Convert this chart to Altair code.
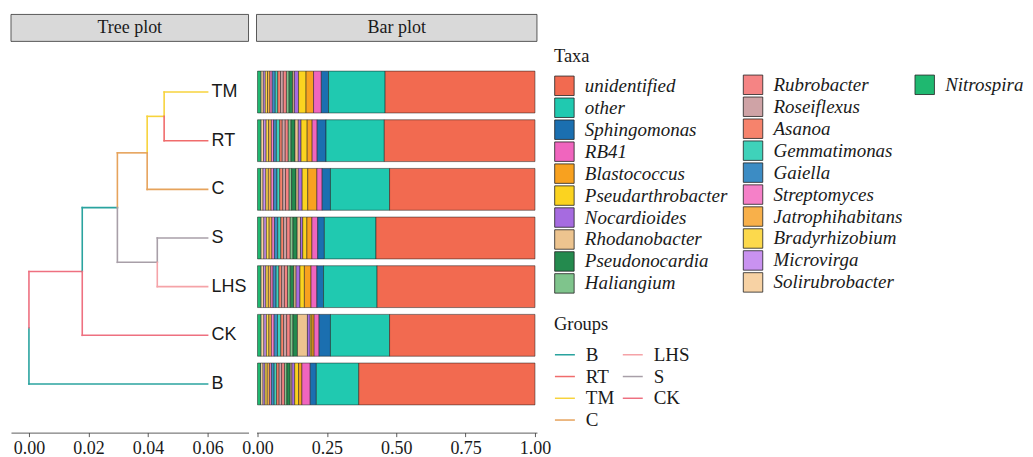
import altair as alt
import pandas as pd

# ---------------- data ----------------
samples = ["TM", "RT", "C", "S", "LHS", "CK", "B"]

taxa = ["unidentified", "other", "Sphingomonas", "RB41", "Blastococcus",
        "Pseudarthrobacter", "Nocardioides", "Rhodanobacter", "Pseudonocardia",
        "Haliangium", "Rubrobacter", "Roseiflexus", "Asanoa", "Gemmatimonas",
        "Gaiella", "Streptomyces", "Jatrophihabitans", "Bradyrhizobium",
        "Microvirga", "Solirubrobacter", "Nitrospira"]

taxa_colors = ["#F26A50", "#20C9B0", "#1B6FB0", "#F065BE", "#F8A11F",
               "#FBD320", "#A66BE0", "#EDC48F", "#248A4E", "#7FC48C",
               "#F58484", "#CFA3A6", "#F6836C", "#3FD2BA", "#3C8CC4",
               "#F580C8", "#F8B04A", "#FCD94C", "#C992F0", "#F7D2A4",
               "#1FB870"]

# relative abundance per sample, in the order of `taxa`
ab_TM = [0.540, 0.204, 0.026, 0.028, 0.027, 0.027, 0.015, 0.006, 0.013, 0.010, 0.011,
         0.010, 0.010, 0.009, 0.011, 0.008, 0.009, 0.008, 0.007, 0.009, 0.012]
ab_RT = [0.543, 0.210, 0.032, 0.018, 0.018, 0.022, 0.010, 0.012, 0.014, 0.011, 0.010,
         0.011, 0.009, 0.012, 0.010, 0.008, 0.010, 0.009, 0.009, 0.010, 0.012]
ab_C = [0.524, 0.213, 0.030, 0.019, 0.033, 0.020, 0.014, 0.008, 0.016, 0.010, 0.012,
        0.010, 0.011, 0.010, 0.012, 0.009, 0.010, 0.009, 0.010, 0.009, 0.011]
ab_S = [0.573, 0.186, 0.024, 0.021, 0.018, 0.015, 0.008, 0.012, 0.015, 0.011, 0.012,
        0.011, 0.010, 0.011, 0.012, 0.009, 0.010, 0.010, 0.009, 0.011, 0.012]
ab_LHS = [0.569, 0.193, 0.024, 0.021, 0.024, 0.016, 0.014, 0.008, 0.013, 0.010, 0.011,
          0.010, 0.010, 0.010, 0.011, 0.008, 0.009, 0.009, 0.008, 0.010, 0.012]
ab_CK = [0.524, 0.213, 0.041, 0.018, 0.008, 0.006, 0.010, 0.036, 0.016, 0.011, 0.012,
         0.011, 0.010, 0.012, 0.012, 0.010, 0.009, 0.009, 0.009, 0.011, 0.012]
ab_B = [0.635, 0.153, 0.022, 0.030, 0.012, 0.014, 0.010, 0.006, 0.012, 0.009, 0.010,
        0.009, 0.009, 0.009, 0.010, 0.007, 0.008, 0.008, 0.007, 0.009, 0.011]

abundance = {"TM": ab_TM, "RT": ab_RT, "C": ab_C, "S": ab_S,
             "LHS": ab_LHS, "CK": ab_CK, "B": ab_B}

# tree (UPGMA-like dendrogram)
node_names = ["root", "n1", "n2", "n3", "n4", "n5",
              "TM", "RT", "C", "S", "LHS", "CK", "B"]
node_x = [0.0, 0.0179, 0.0297, 0.0397, 0.0454, 0.0431,
          0.06, 0.06, 0.06, 0.06, 0.06, 0.06, 0.06]
node_y = [2.156, 3.3125, 4.625, 5.75, 6.5, 3.5,
          7, 6, 5, 4, 3, 2, 1]
edge_parent = ["root", "root", "n1", "n1", "n2", "n2", "n3", "n3", "n4", "n4", "n5", "n5"]
edge_child = ["B", "n1", "n2", "CK", "n3", "n5", "n4", "C", "TM", "RT", "S", "LHS"]
edge_group = ["B", "CK", "B", "CK", "C", "S", "TM", "C", "TM", "RT", "S", "LHS"]

groups = ["B", "RT", "TM", "C", "LHS", "S", "CK"]
group_colors = ["#2AA39F", "#F06C6C", "#F7D33C", "#E6A35C", "#F5A3A8", "#A89FA8", "#EE7080"]

# ---------------- tables ----------------
rows = []
for s in samples:
    vals = abundance[s]
    cum = 0.0
    for i in reversed(range(len(taxa))):
        col = 1 if i < 10 else (2 if i < 20 else 3)
        rows.append({"sample": s, "taxon": taxa[i], "x0": cum,
                     "x1": cum + vals[i], "col": col})
        cum += vals[i]
bar_df = pd.DataFrame(rows)

pos = {n: (x, y) for n, x, y in zip(node_names, node_x, node_y)}
segs = []
for p, c, g in zip(edge_parent, edge_child, edge_group):
    px, py = pos[p]
    cx, cy = pos[c]
    segs.append({"x": px, "x2": px, "y": py, "y2": cy, "group": g})
    segs.append({"x": px, "x2": cx, "y": cy, "y2": cy, "group": g})
seg_df = pd.DataFrame(segs)
tip_df = pd.DataFrame({"name": node_names[6:], "x": node_x[6:], "y": node_y[6:]})

# ---------------- styling ----------------
SERIF = "Liberation Serif"
SANS = "Liberation Sans"
TREE_W, BAR_W, H = 238, 281, 390
LEG_FS = 19

def x_axis(vals):
    return alt.Axis(values=vals, format=".2f", title=None, grid=False,
                    labelFont=SERIF, labelFontSize=18, labelColor="#1a1a1a",
                    labelFlush=False, domainColor="#333333", tickColor="#333333",
                    tickSize=4, labelPadding=3, domainWidth=0.8, tickWidth=0.8)

def strip(label, w):
    d = pd.DataFrame({"label": [label]})
    r = alt.Chart(d).mark_rect(fill="#D9D9D9", stroke="#333333", strokeWidth=0.8).encode(
        x=alt.value(0), x2=alt.value(w), y=alt.value(-29), y2=alt.value(-2))
    t = alt.Chart(d).mark_text(font=SERIF, fontSize=18, color="#1a1a1a",
                               baseline="middle", align="center").encode(
        x=alt.value(w / 2), y=alt.value(-15), text="label:N")
    return r + t

# ---------------- tree panel ----------------
tree_x = alt.Scale(domain=[-0.00603, 0.07374], nice=False, zero=False)
tree_y = alt.Scale(domain=[0, 8], nice=False, zero=False)

edges = alt.Chart(seg_df).mark_rule(strokeWidth=1.6, strokeCap="square").encode(
    x=alt.X("x:Q", scale=tree_x, axis=x_axis([0, 0.02, 0.04, 0.06])),
    x2="x2:Q",
    y=alt.Y("y:Q", scale=tree_y, axis=None),
    y2="y2:Q",
    color=alt.Color("group:N", scale=alt.Scale(domain=groups, range=group_colors),
                    legend=alt.Legend(title="Groups", orient="none", legendX=544, legendY=272.5,
                                      columns=2, columnPadding=5, symbolType="stroke",
                                      symbolSize=400, symbolStrokeWidth=1.5,
                                      labelFont=SERIF, labelFontSize=LEG_FS, labelColor="#1a1a1a",
                                      titleFont=SERIF, titleFontSize=18.5, titleFontWeight="normal",
                                      titleColor="#1a1a1a", titlePadding=10, rowPadding=0.8,
                                      labelOffset=10)),
)
tips = alt.Chart(tip_df).mark_text(font=SANS, fontSize=18, color="#1a1a1a",
                                   align="left", baseline="middle", dx=4).encode(
    x=alt.X("x:Q", scale=tree_x),
    y=alt.Y("y:Q", scale=tree_y, axis=None),
    text="name:N")

tree = alt.layer(edges, tips, strip("Tree plot", TREE_W)).properties(width=TREE_W, height=H)

# ---------------- bar panel ----------------
bar_x = alt.Scale(domain=[-0.0036, 1.0072], nice=False, zero=False)
bar_y = alt.Scale(paddingInner=0.14, paddingOuter=0.57)

leg_common = dict(orient="none", symbolType="square", symbolSize=380,
                  symbolStrokeColor="#222222", symbolStrokeWidth=0.8,
                  labelFont=SERIF, labelFontSize=LEG_FS, labelFontStyle="italic",
                  labelColor="#1a1a1a", labelLimit=400, labelOffset=10, rowPadding=-1.85,
                  titleFont=SERIF, titleFontSize=18.5, titleFontWeight="normal",
                  titleColor="#1a1a1a", titlePadding=10)

def taxa_layer(i, lo, hi, legend):
    return alt.Chart(bar_df).transform_filter(alt.datum.col == i).mark_bar(
        stroke="#1a1a1a", strokeWidth=0.5).encode(
        x=alt.X("x0:Q", scale=bar_x, axis=x_axis([0, 0.25, 0.5, 0.75, 1.0])),
        x2="x1:Q",
        y=alt.Y("sample:N", sort=samples, scale=bar_y, axis=None),
        color=alt.Color("taxon:N", scale=alt.Scale(domain=taxa[lo:hi], range=taxa_colors[lo:hi]),
                        legend=legend),
    )

l1 = taxa_layer(1, 0, 10, alt.Legend(title="Taxa", legendX=298, legendY=3.5, **leg_common))
l2 = taxa_layer(2, 10, 20, alt.Legend(title=None, legendX=487, legendY=31, **leg_common))
l3 = taxa_layer(3, 20, 21, alt.Legend(title=None, legendX=659, legendY=31, **leg_common))

bars = alt.layer(l1, l2, l3, strip("Bar plot", BAR_W)).resolve_scale(
    color="independent").properties(width=BAR_W, height=H)

chart = alt.hconcat(tree, bars, spacing=8, bounds="flush").resolve_scale(
    x="independent", y="independent", color="independent"
).properties(
    padding={"left": 2, "top": 5, "right": 0, "bottom": 5},
    background="white",
).configure_view(stroke="transparent")

chart.save("out.html", embed_options={"renderer": "svg", "actions": False})
